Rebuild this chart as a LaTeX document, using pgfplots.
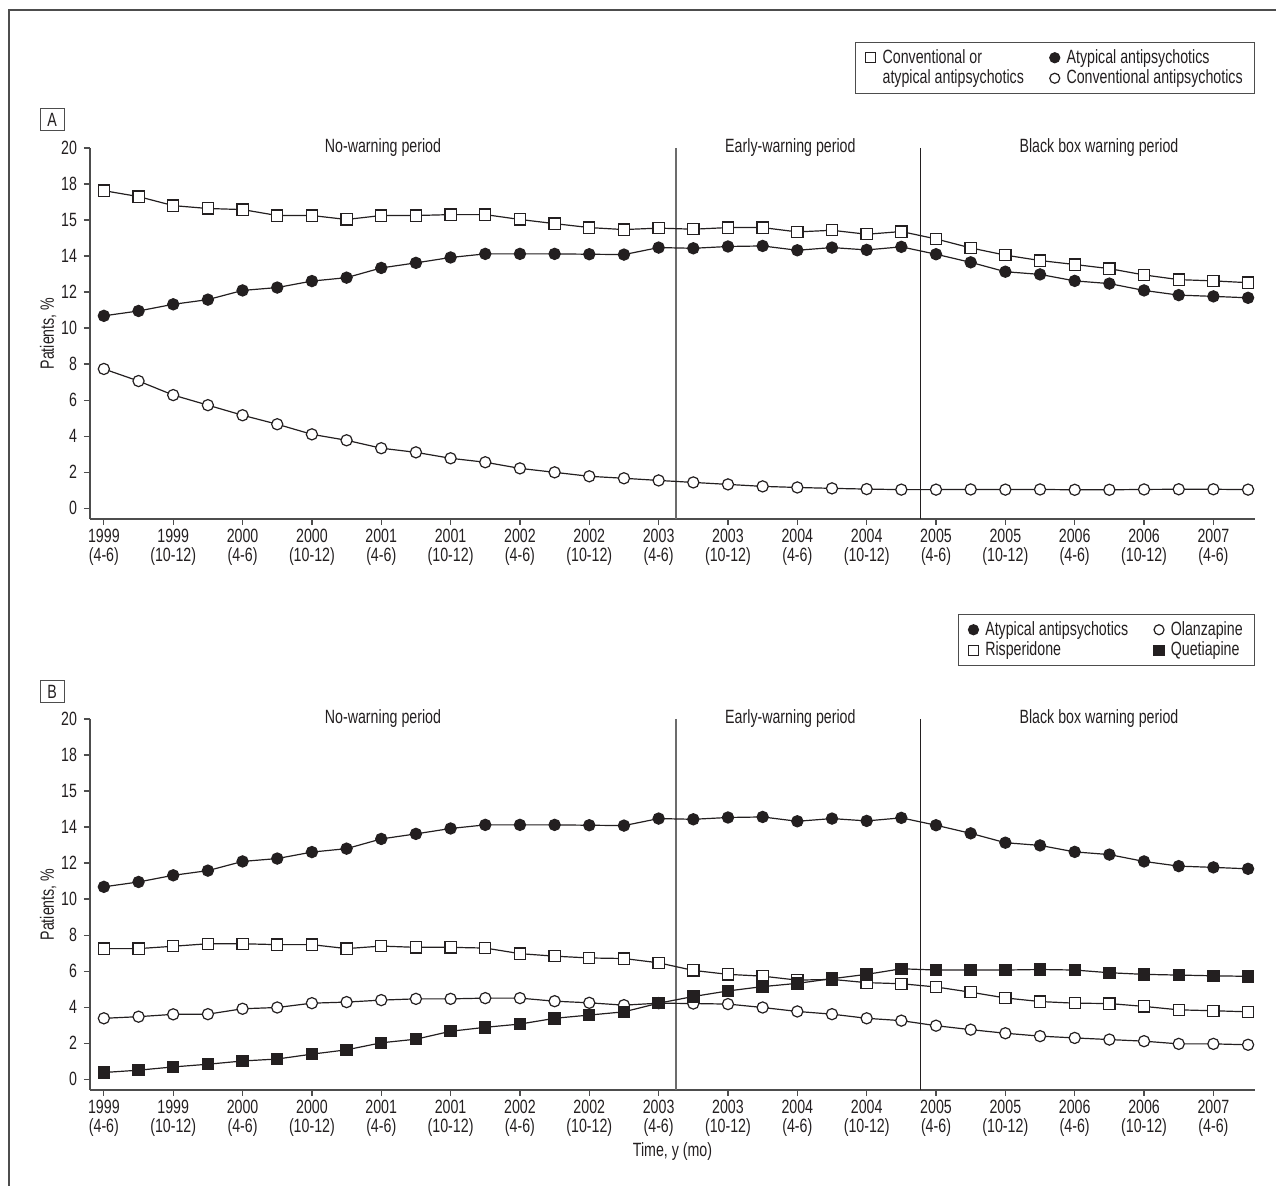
\documentclass[border=0pt]{standalone}
\usepackage{fontspec}
\setmainfont{Liberation Sans}[FakeStretch=0.74]
\usepackage{pgfplots}
\pgfplotsset{compat=1.18}
\usepackage{pgfplotstable}

\definecolor{ink}{HTML}{231F20}
\definecolor{axisgray}{HTML}{4D4D4D}

% Panel A: share of patients by antipsychotic class, quarterly from 1999 (4-6)
\pgfplotstableread{
q  either atyp  conv
0  17.63  10.68 7.73
1  17.30  10.95 7.06
2  16.80  11.32 6.28
3  16.64  11.58 5.72
4  16.58  12.09 5.16
5  16.25  12.25 4.66
6  16.25  12.61 4.10
7  16.03  12.80 3.77
8  16.25  13.34 3.33
9  16.25  13.62 3.10
10 16.30  13.92 2.77
11 16.30  14.12 2.55
12 16.03  14.12 2.21
13 15.80  14.12 1.99
14 15.58  14.10 1.77
15 15.47  14.08 1.66
16 15.55  14.47 1.54
17 15.49  14.43 1.43
18 15.58  14.53 1.32
19 15.58  14.56 1.21
20 15.34  14.32 1.15
21 15.43  14.47 1.10
22 15.21  14.34 1.06
23 15.36  14.51 1.03
24 14.95  14.10 1.03
25 14.45  13.65 1.04
26 14.05  13.13 1.03
27 13.75  12.98 1.04
28 13.53  12.62 1.02
29 13.30  12.47 1.02
30 12.95  12.09 1.04
31 12.69  11.83 1.05
32 12.62  11.76 1.05
33 12.52  11.68 1.03
}\classdata

% Panel B: individual atypical agents
\pgfplotstableread{
q  atyp  risp olan quet
0  10.68 7.25 3.38 0.37
1  10.95 7.25 3.47 0.50
2  11.32 7.38 3.60 0.68
3  11.58 7.52 3.61 0.83
4  12.09 7.52 3.91 1.01
5  12.25 7.47 3.98 1.12
6  12.61 7.47 4.22 1.39
7  12.80 7.25 4.28 1.63
8  13.34 7.39 4.39 2.02
9  13.62 7.32 4.46 2.22
10 13.92 7.32 4.46 2.66
11 14.12 7.28 4.50 2.88
12 14.12 6.97 4.50 3.06
13 14.12 6.83 4.33 3.38
14 14.10 6.73 4.24 3.56
15 14.08 6.70 4.11 3.74
16 14.47 6.46 4.22 4.22
17 14.43 6.04 4.20 4.59
18 14.53 5.82 4.17 4.90
19 14.56 5.72 3.98 5.14
20 14.32 5.50 3.76 5.32
21 14.47 5.54 3.61 5.58
22 14.34 5.36 3.38 5.82
23 14.51 5.30 3.25 6.13
24 14.10 5.12 2.97 6.06
25 13.65 4.83 2.75 6.06
26 13.13 4.51 2.55 6.06
27 12.98 4.31 2.39 6.09
28 12.62 4.22 2.29 6.06
29 12.47 4.20 2.20 5.91
30 12.09 4.04 2.11 5.82
31 11.83 3.85 1.96 5.78
32 11.76 3.80 1.96 5.74
33 11.68 3.74 1.91 5.71
}\agentdata

\pgfplotsset{
  panel/.style={
    scale only axis, width=582.5pt, height=185.5pt,
    xmin=-0.4, xmax=33.2, ymin=-0.6, ymax=20,
    axis lines*=left, clip=false,
    axis line style={axisgray, line width=0.7pt},
    tick align=outside, major tick length=3pt,
    tick style={axisgray, line width=0.6pt},
    xtick={0,2,...,32},
    xticklabels={{1999\\(4-6)},{1999\\(10-12)},{2000\\(4-6)},{2000\\(10-12)},
      {2001\\(4-6)},{2001\\(10-12)},{2002\\(4-6)},{2002\\(10-12)},
      {2003\\(4-6)},{2003\\(10-12)},{2004\\(4-6)},{2004\\(10-12)},
      {2005\\(4-6)},{2005\\(10-12)},{2006\\(4-6)},{2006\\(10-12)},{2007\\(4-6)}},
    xticklabel style={align=center, text=ink, font=\fontsize{9.6}{9.2}\selectfont, inner sep=2pt},
    ytick={0,2,...,20},
    yticklabels={0,2,4,6,8,10,12,14,15,18,20},
    yticklabel style={text=ink},
    ylabel={Patients, \%},
    every axis y label/.style={at={(axis description cs:-0.036,0.5)}, rotate=90, anchor=center, text=ink},
    legend columns=2, legend cell align=left,
    legend image code/.code={\draw[#1, mark size=2.5pt] plot coordinates {(0pt,0pt)};},
    legend style={draw=axisgray, line width=0.5pt, text=ink,
      inner xsep=5pt, inner ysep=2.5pt, row sep=0pt,
      nodes={inner sep=0.9pt},
      /tikz/every odd column/.append style={column sep=2.5pt},
      /tikz/every even column/.append style={column sep=12pt}},
  },
  series/.style={draw=ink, line width=0.6pt, mark size=2.8pt,
    mark options={solid, draw=ink, line width=0.65pt}},
  opensq/.style={series, mark=square*, mark options={fill=white}},
  fillsq/.style={series, mark=square*, mark options={fill=ink}},
  opencirc/.style={series, mark=*, mark options={fill=white}},
  fillcirc/.style={series, mark=*, mark options={fill=ink}},
}

\newcommand{\periodmarks}{%
  \draw[gray!85!black, line width=1pt] (axis cs:16.5,20) -- (axis cs:16.5,-0.6);
  \draw[ink, line width=0.5pt] (axis cs:23.55,20) -- (axis cs:23.55,-0.6);
  \node[text=ink] at (axis cs:8.05,20) {No-warning period};
  \node[text=ink] at (axis cs:19.8,20) {Early-warning period};
  \node[text=ink] at (axis cs:28.7,20) {Black box warning period};
}

\begin{document}
\begin{tikzpicture}[font=\fontsize{9.6}{10.5}\selectfont]
\path[use as bounding box] (0pt,0pt) rectangle (638pt,593pt);
\draw[axisgray, line width=1pt] (4.5pt,0pt) -- (4.5pt,588pt) -- (638pt,588pt);

% panel letters
\node[draw=axisgray, line width=0.5pt, text=ink, minimum width=12pt, minimum height=11pt, inner sep=0pt]
  at (26pt,533pt) {A};
\node[draw=axisgray, line width=0.5pt, text=ink, minimum width=12pt, minimum height=11pt, inner sep=0pt]
  at (26pt,247pt) {B};

% ---- Panel A ----
\begin{axis}[panel, at={(45pt,333.5pt)}, anchor=south west,
  legend style={at={(rel axis cs:1,1.2857)}, anchor=north east}]
  \periodmarks
  \addplot[opensq, forget plot] table[x=q, y=either] {\classdata};
  \addplot[fillcirc, forget plot] table[x=q, y=atyp] {\classdata};
  \addplot[opencirc, forget plot] table[x=q, y=conv] {\classdata};
  \addlegendimage{only marks, mark=square*, draw=ink, fill=white, line width=0.6pt}
  \addlegendentry{Conventional or}
  \addlegendimage{only marks, mark=*, draw=ink, fill=ink, line width=0.6pt}
  \addlegendentry{Atypical antipsychotics}
  \addlegendimage{empty legend}
  \addlegendentry{atypical antipsychotics}
  \addlegendimage{only marks, mark=*, draw=ink, fill=white, line width=0.6pt}
  \addlegendentry{Conventional antipsychotics}
\end{axis}

% ---- Panel B ----
\begin{axis}[panel, at={(45pt,48pt)}, anchor=south west,
  xlabel={Time, y (mo)},
  every axis x label/.style={at={(axis description cs:0.5,-0.167)}, anchor=center, text=ink},
  legend style={at={(rel axis cs:1,1.283)}, anchor=north east}]
  \periodmarks
  \addplot[opensq, forget plot] table[x=q, y=risp] {\agentdata};
  \addplot[opencirc, forget plot] table[x=q, y=olan] {\agentdata};
  \addplot[fillsq, forget plot] table[x=q, y=quet] {\agentdata};
  \addplot[fillcirc, forget plot] table[x=q, y=atyp] {\agentdata};
  \addlegendimage{only marks, mark=*, draw=ink, fill=ink, line width=0.6pt}
  \addlegendentry{Atypical antipsychotics}
  \addlegendimage{only marks, mark=*, draw=ink, fill=white, line width=0.6pt}
  \addlegendentry{Olanzapine}
  \addlegendimage{only marks, mark=square*, draw=ink, fill=white, line width=0.6pt}
  \addlegendentry{Risperidone}
  \addlegendimage{only marks, mark=square*, draw=ink, fill=ink, line width=0.6pt}
  \addlegendentry{Quetiapine}
\end{axis}
\end{tikzpicture}
\end{document}
